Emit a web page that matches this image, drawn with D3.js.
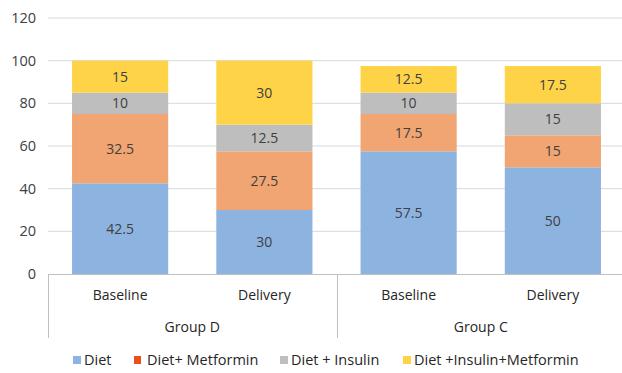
<!DOCTYPE html>
<html><head><meta charset="utf-8">
<script src="https://cdn.jsdelivr.net/npm/d3@7"></script>
<style>body{margin:0;background:#fff;} svg{display:block;font-family:"Open Sans","Noto Sans",sans-serif;}</style>
</head><body>
<svg id="c" width="622" height="373"></svg>
<script>
const categories = ["Baseline","Delivery","Baseline","Delivery"];
const groups = ["Group D","Group C"];
const seriesNames = ["Diet","Diet+ Metformin","Diet + Insulin","Diet +Insulin+Metformin"];
const diet = [42.5, 30, 57.5, 50];
const dietMetformin = [32.5, 27.5, 17.5, 15];
const dietInsulin = [10, 12.5, 10, 15];
const dietInsulinMetformin = [15, 30, 12.5, 17.5];
const yTicks = [0,20,40,60,80,100,120];

const colors = ["#8DB4E0","#F0A572","#BEBEBE","#FFD348"];
const legendColors = ["#8DB4E0","#E8501A","#BEBEBE","#FFD348"];
const seriesVals = [diet, dietMetformin, dietInsulin, dietInsulinMetformin];

const svg = d3.select("#c");
const x = d3.scaleBand().domain(d3.range(categories.length)).range([48,625]).paddingInner(1/3).paddingOuter(1/6);
const y = d3.scaleLinear().domain([0,120]).range([274,18]);

// gridlines
svg.append("g").selectAll("line").data(yTicks.filter(d=>d>0)).join("line")
  .attr("x1",48).attr("x2",622).attr("y1",d=>y(d)).attr("y2",d=>y(d))
  .attr("stroke","#D9D9D9").attr("stroke-width",1);

// y labels
svg.append("g").selectAll("text").data(yTicks).join("text")
  .attr("x",36).attr("y",d=>y(d)).attr("dy","0.35em").attr("text-anchor","end")
  .attr("font-size",14.5).attr("fill","#404040").text(d=>d);

// stacks
const rows = categories.map((c,i)=>{const o={i}; seriesNames.forEach((s,k)=>o[s]=seriesVals[k][i]); return o;});
const stack = d3.stack().keys(seriesNames)(rows);
stack.forEach((layer,k)=>{
  const g = svg.append("g");
  g.selectAll("rect").data(layer).join("rect")
    .attr("x",d=>x(d.data.i)).attr("width",x.bandwidth())
    .attr("y",d=>y(d[1])).attr("height",d=>y(d[0])-y(d[1]))
    .attr("fill",colors[k]);
  g.selectAll("text").data(layer).join("text")
    .attr("x",d=>x(d.data.i)+x.bandwidth()/2).attr("y",d=>(y(d[0])+y(d[1]))/2)
    .attr("dy","0.35em").attr("text-anchor","middle").attr("font-size",14).attr("fill","#404040")
    .text(d=>d.data[seriesNames[k]]);
});

// x axis line
svg.append("line").attr("x1",48).attr("x2",625).attr("y1",y(0)+0.5).attr("y2",y(0)+0.5).attr("stroke","#BFBFBF");
// separators
const step = x.step();
const left = x(0) - x.paddingOuter()*step;
[0,2,4].forEach(i=>{
  const xx = Math.round(left + i*step)+0.5;
  svg.append("line").attr("x1",xx).attr("x2",xx).attr("y1",y(0)).attr("y2",338).attr("stroke","#BFBFBF");
});
// category labels
svg.append("g").selectAll("text").data(categories).join("text")
  .attr("x",(d,i)=>x(i)+x.bandwidth()/2).attr("y",295).attr("dy","0.35em").attr("text-anchor","middle")
  .attr("font-size",14).attr("fill","#262626").text(d=>d);
// group labels
svg.append("g").selectAll("text").data(groups).join("text")
  .attr("x",(d,i)=>left + (i*2+1)*step).attr("y",327).attr("dy","0.35em").attr("text-anchor","middle")
  .attr("font-size",14).attr("fill","#262626").text(d=>d);

// legend
const legX = [73,134,280,403];
const lg = svg.append("g");
seriesNames.forEach((s,k)=>{
  const w = k===1 ? 7 : 8;
  lg.append("rect").attr("x",legX[k]).attr("y",356).attr("width",w).attr("height",8).attr("fill",legendColors[k]);
  lg.append("text").attr("x",legX[k]+(k===1?13:11)).attr("y",360).attr("dy","0.35em")
    .attr("font-size",14.5).attr("fill","#262626").text(s);
});
</script>
</body></html>
